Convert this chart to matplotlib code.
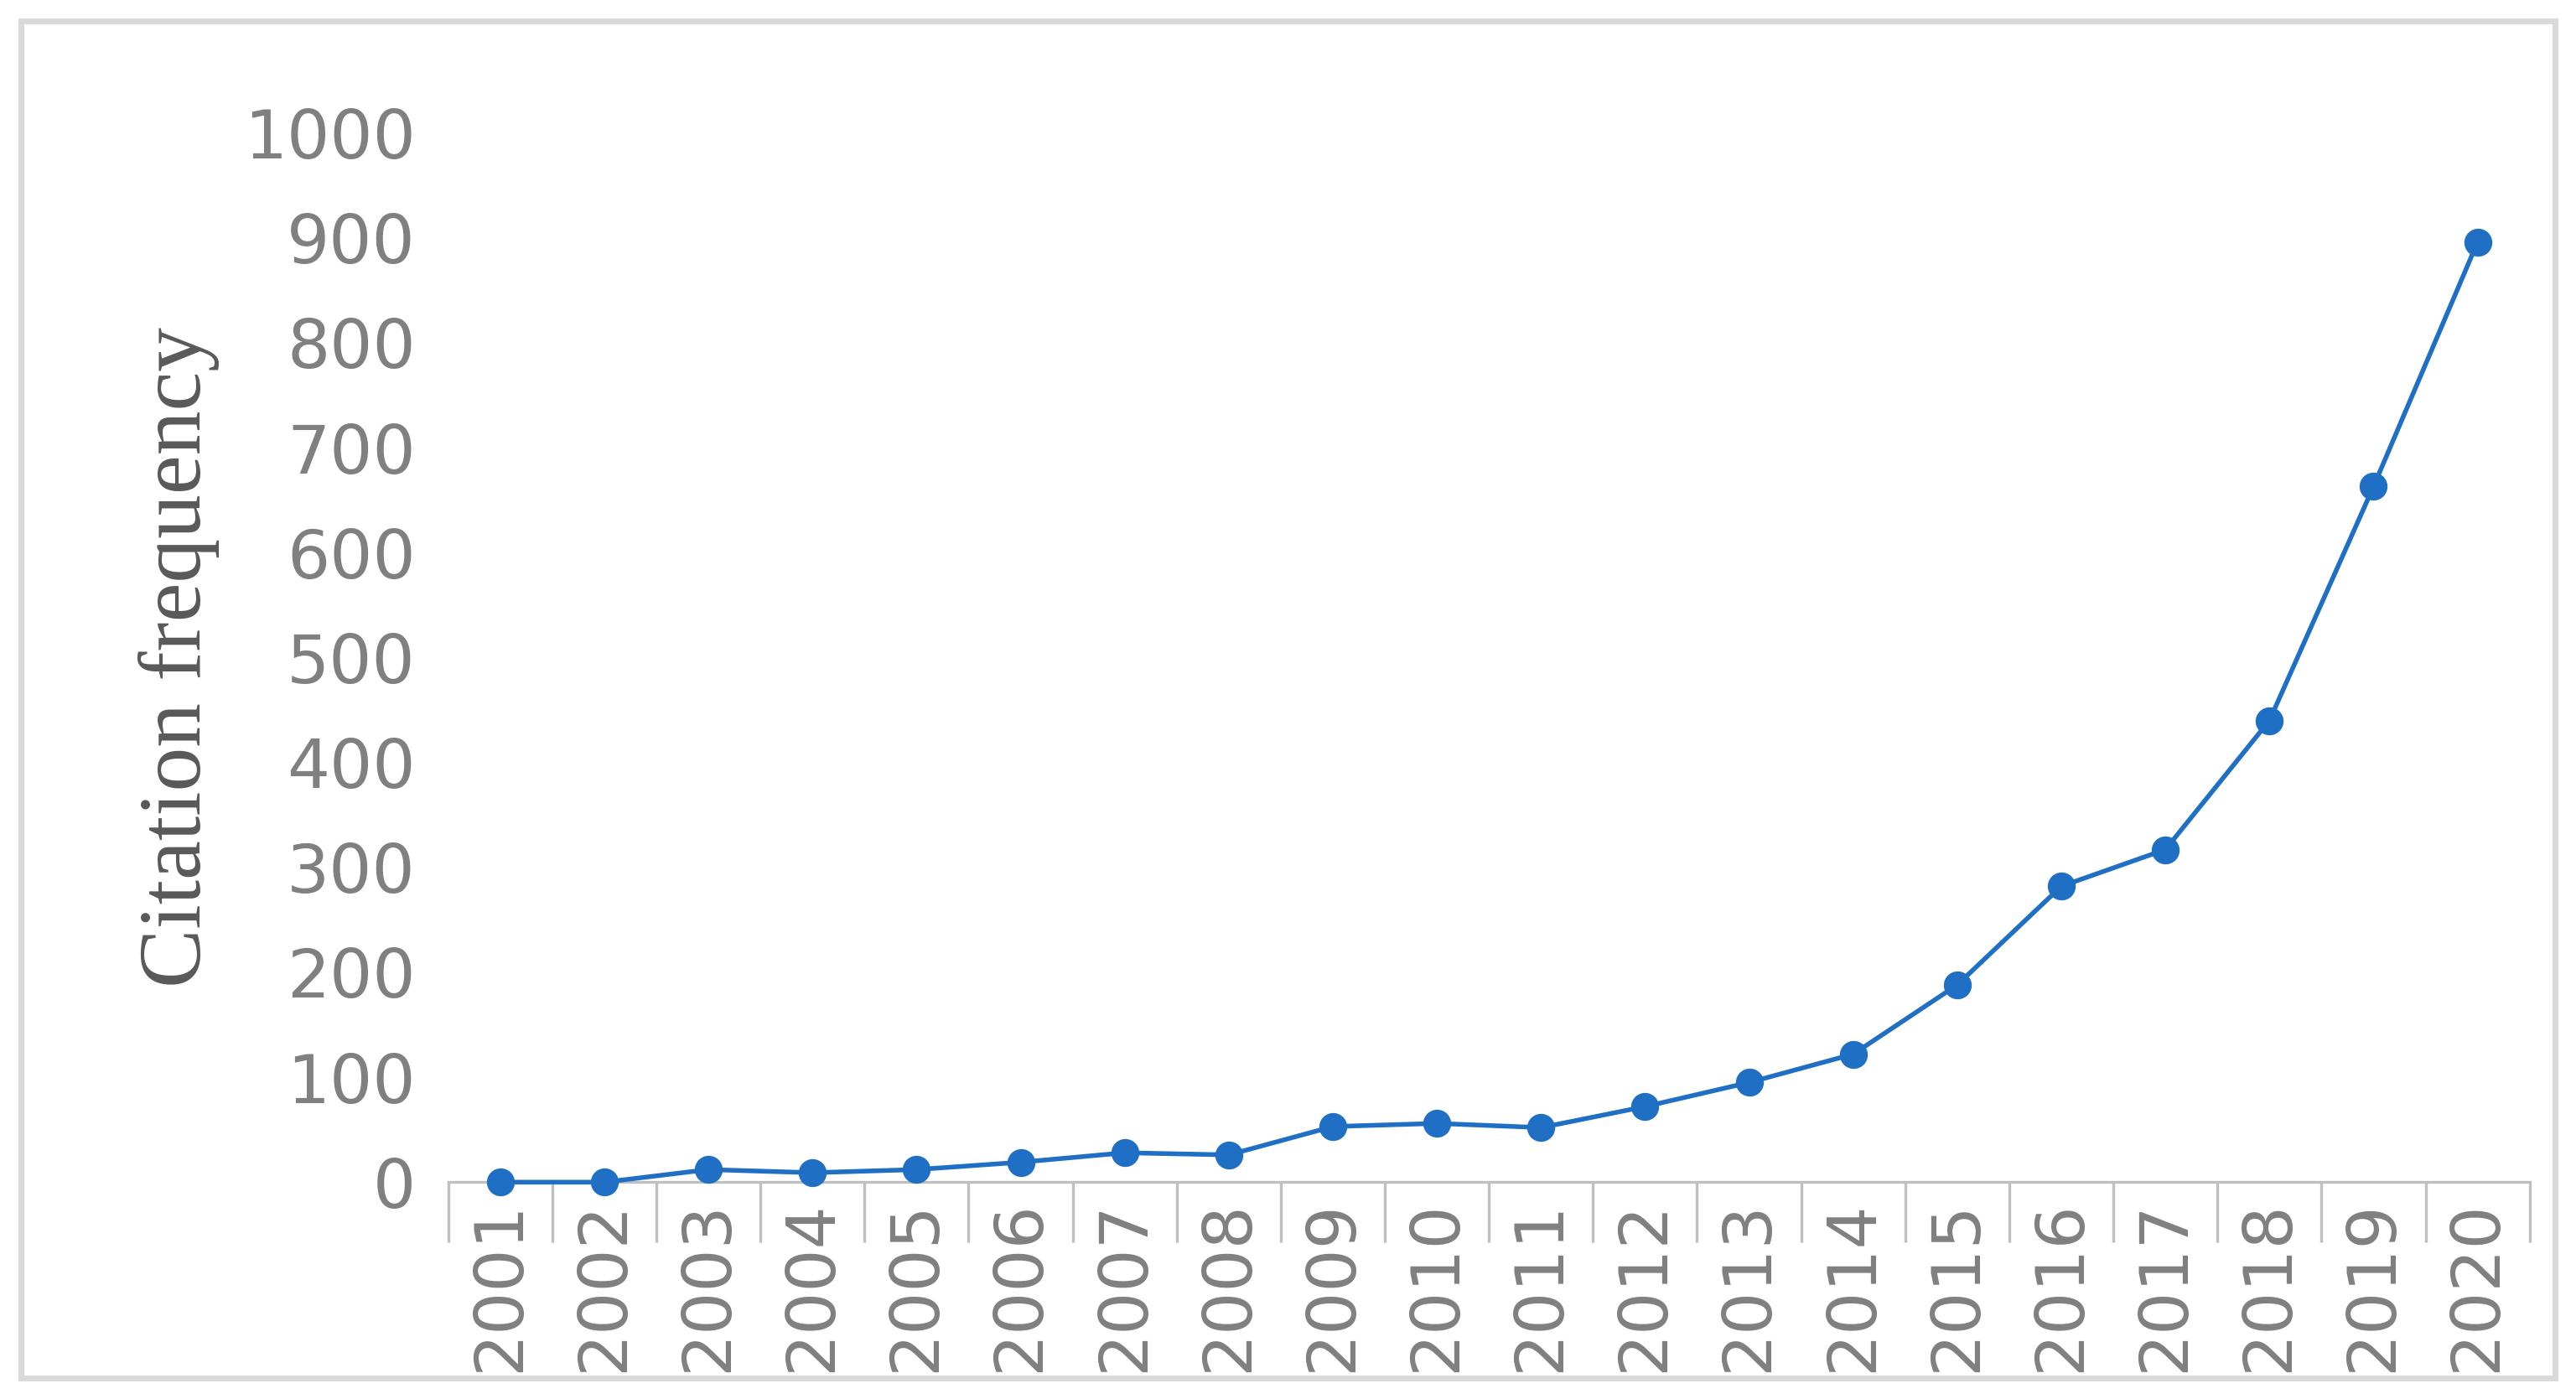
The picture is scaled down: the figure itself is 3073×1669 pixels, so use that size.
import numpy as np
import matplotlib
matplotlib.use("Agg")
import matplotlib.pyplot as plt
from matplotlib.patches import Rectangle

years = [str(y) for y in range(2001, 2021)]
citations = [0, 0, 12, 9, 12, 19, 28, 26, 53, 56, 52, 72, 95, 122, 188, 282, 317, 440, 663, 896]
yticks = list(range(0, 1001, 100))

fig = plt.figure(figsize=(15.365, 8.345), dpi=200)
ax = fig.add_axes([0.174, 0.155, 0.808, 0.75])

x = np.arange(len(years))
ax.plot(x, citations, color="#1F6FC5", lw=2, marker="o", ms=11, zorder=5, clip_on=False)

ax.set_xlim(-0.5, len(years) - 0.5)
ax.set_ylim(0, 1000)
ax.set_yticks(yticks)
ax.set_yticklabels([str(v) for v in yticks], fontsize=29, color="#808080", family="DejaVu Sans")
ax.set_xticks(x)
ax.set_xticklabels(years, rotation=90, fontsize=29, color="#808080", family="DejaVu Sans")
ax.tick_params(axis="y", length=0, pad=14)
ax.tick_params(axis="x", which="major", length=0, pad=8)
ax.set_xticks(np.arange(-0.5, len(years), 1), minor=True)
ax.tick_params(axis="x", which="minor", length=26, width=1.2, color="#BFBFBF")
for s in ["top", "right", "left"]:
    ax.spines[s].set_visible(False)
ax.spines["bottom"].set_color("#BFBFBF")
ax.spines["bottom"].set_linewidth(1.2)

ax.set_ylabel("Citation frequency", fontsize=38, color="#595959",
              family="Liberation Serif", labelpad=14)
ax.yaxis.set_label_coords(-0.11, 0.5)

fig.patches.append(Rectangle((0.008, 0.015), 0.984, 0.97, transform=fig.transFigure,
                             fill=False, edgecolor="#D9D9D9", lw=2.5))

fig.savefig("out.png", dpi=200)
